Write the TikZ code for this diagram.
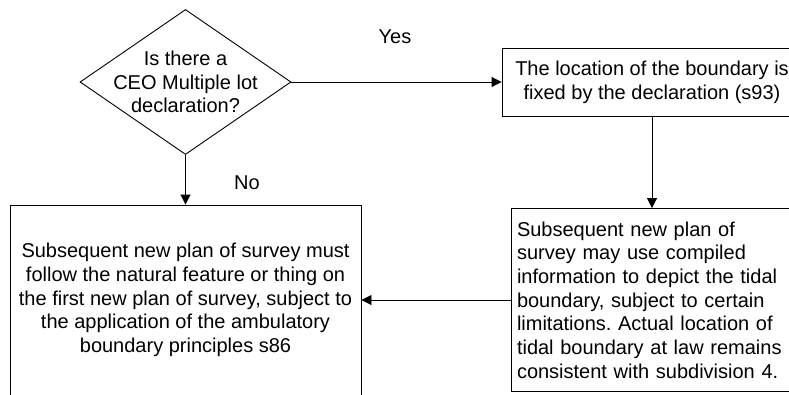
\documentclass[tikz,border=0pt]{standalone}
\usepackage{fontspec}
\setmainfont{Liberation Sans}
\frenchspacing
\usetikzlibrary{shapes.geometric,arrows.meta}
\begin{document}
\begin{tikzpicture}[x=1pt,y=-1pt,
  every node/.style={font=\fontsize{20}{23.7}\selectfont},
  line/.style={draw=black,line width=0.9pt},
  arr/.style={line,-{Triangle[length=10pt,width=10pt]}},
  decision/.style={diamond,line,inner sep=0pt,minimum width=211pt,minimum height=145pt},
  box/.style={rectangle,line,inner sep=0pt}
]
\useasboundingbox (0,0) rectangle (789,394);
\clip (0,0) rectangle (789,394);
\node[decision,label={[align=center]center:Is there a\\CEO Multiple lot\\declaration?}] (q) at (185.5,82) {};
\node[box,minimum width=300pt,minimum height=68pt,align=center] (b2) at (652,82) {The location of the boundary is\\fixed by the declaration (s93)};
\node[box,minimum width=351pt,minimum height=190pt,align=center] (b1) at (185.5,300) {Subsequent new plan of survey must\\follow the natural feature or thing on\\the first new plan of survey, subject to\\the application of the ambulatory\\boundary principles s86};
\node[box,minimum width=282pt,minimum height=183pt,inner xsep=6pt,text width=270pt,align=left] (b3) at (652,300) {Subsequent new plan of\\survey may use compiled\\information to depict the tidal\\boundary, subject to certain\\limitations. Actual location of\\tidal boundary at law remains\\consistent with subdivision 4.};
\draw[arr] (q.east) -- (b2.west);
\draw[arr] (q.south) -- (b1.north);
\draw[arr] (b2.south) -- (b3.north);
\draw[arr] (b3.west) -- (b1.east);
\node (yes) at (395,37) {Yes};
\node (no) at (247,183) {No};
\end{tikzpicture}
\end{document}
